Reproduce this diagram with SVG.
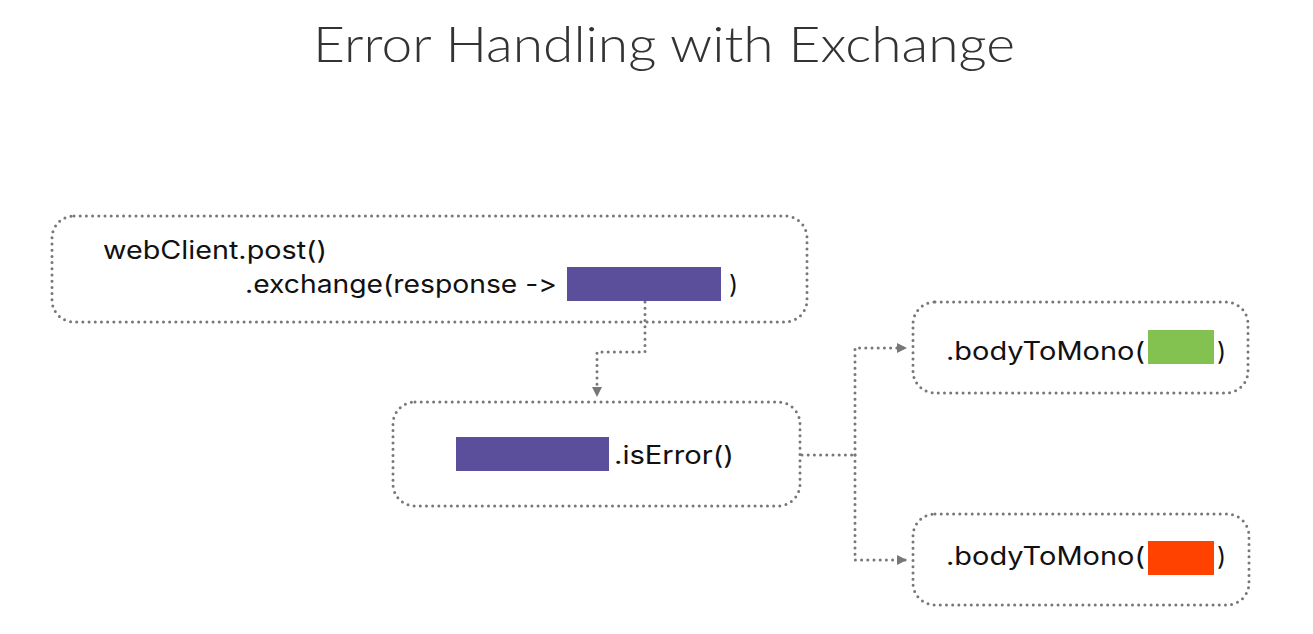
<svg xmlns="http://www.w3.org/2000/svg" width="1313" height="634" viewBox="0 0 1313 634">
<style>
.box{fill:none;stroke:#777;stroke-width:3;stroke-dasharray:0 6.2;stroke-linecap:round}
.conn{fill:none;stroke:#777;stroke-width:3;stroke-dasharray:0 6.2;stroke-linecap:round}
.t{font-family:Inter,"Liberation Sans",sans-serif;font-size:25px;fill:#111;font-variant-ligatures:none;font-feature-settings:"calt" 0,"liga" 0}
.title{font-family:Lato,"Liberation Sans",sans-serif;font-weight:300;font-size:50px;fill:#333}
.purple{fill:#5b4f9b}
</style>
<defs>
<marker id="arr" viewBox="0 0 10 10" refX="9" refY="5" markerWidth="10" markerHeight="10" markerUnits="userSpaceOnUse" orient="auto">
<path d="M0,0 L10,5 L0,10 Z" fill="#777"/>
</marker>
</defs>
<rect width="1313" height="634" fill="#fff"/>
<text class="title" x="664" y="62" text-anchor="middle" textLength="702" lengthAdjust="spacingAndGlyphs">Error Handling with Exchange</text>
<g id="connectors">
<path class="conn" d="M645,302 V352 H597 V396" marker-end="url(#arr)"/>
<path class="conn" d="M802,455 H855"/>
<path class="conn" d="M855,455 V348 H906" marker-end="url(#arr)"/>
<path class="conn" d="M855,455 V560 H906" marker-end="url(#arr)"/>
</g>
<g id="node-webclient">
<rect class="box" x="52" y="216" width="755" height="106" rx="22"/>
<text class="t" x="103" y="259" textLength="224" lengthAdjust="spacingAndGlyphs">webClient.post()</text>
<text class="t" x="245" y="293" textLength="312" lengthAdjust="spacingAndGlyphs">.exchange(response -&gt;</text>
<rect class="purple" x="567" y="267" width="154" height="34"/>
<text class="t" x="729" y="293">)</text>
</g>
<g id="node-iserror">
<rect class="box" x="393" y="402" width="407" height="104" rx="22"/>
<rect class="purple" x="456" y="437" width="153" height="34"/>
<text class="t" x="614" y="464" textLength="120" lengthAdjust="spacingAndGlyphs">.isError()</text>
</g>
<g id="node-body-ok">
<rect class="box" x="913" y="302" width="335" height="91" rx="22"/>
<text class="t" x="946" y="360" textLength="199" lengthAdjust="spacingAndGlyphs">.bodyToMono(</text>
<rect x="1148" y="330" width="66" height="34" fill="#83c150"/>
<text class="t" x="1217" y="360">)</text>
</g>
<g id="node-body-err">
<rect class="box" x="913" y="514" width="336" height="91" rx="22"/>
<text class="t" x="946" y="565" textLength="199" lengthAdjust="spacingAndGlyphs">.bodyToMono(</text>
<rect x="1148" y="541" width="66" height="34" fill="#ff4200"/>
<text class="t" x="1217" y="565">)</text>
</g>
</svg>
